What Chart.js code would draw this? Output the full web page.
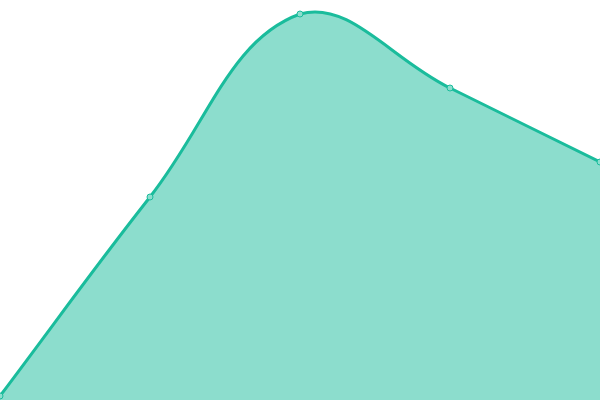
<!DOCTYPE html>
<html>
<head>
<meta charset="utf-8">
<script src="https://cdn.jsdelivr.net/npm/chart.js@4/dist/chart.umd.min.js"></script>
<style>
  html, body { margin: 0; padding: 0; background: #fff; }
  #wrap { width: 600px; height: 400px; }
</style>
</head>
<body>
<div id="wrap"><canvas id="chart"></canvas></div>
<script>
const labels = ['A', 'B', 'C', 'D', 'E'];
const values = [1, 50.75, 96.5, 78, 59.5];

new Chart(document.getElementById('chart'), {
    type: 'line',
    data: {
        labels: labels,
        datasets: [{
            data: values,
            fill: true,
            tension: 0.4,
            borderColor: 'rgba(26, 188, 156, 1)',
            backgroundColor: 'rgba(26, 188, 156, 0.5)',
            pointBackgroundColor: 'rgba(140, 222, 206, 1)',
            borderWidth: 3,
            pointRadius: 3,
            pointBorderWidth: 1
        }]
    },
    options: {
        responsive: true,
        maintainAspectRatio: false,
        animation: false,
        layout: { padding: 0, autoPadding: false },
        plugins: { legend: { display: false }, tooltip: { enabled: false } },
        scales: {
            x: { display: false },
            y: { display: false, min: 0, max: 100 }
        }
    }
});
</script>
</body>
</html>
